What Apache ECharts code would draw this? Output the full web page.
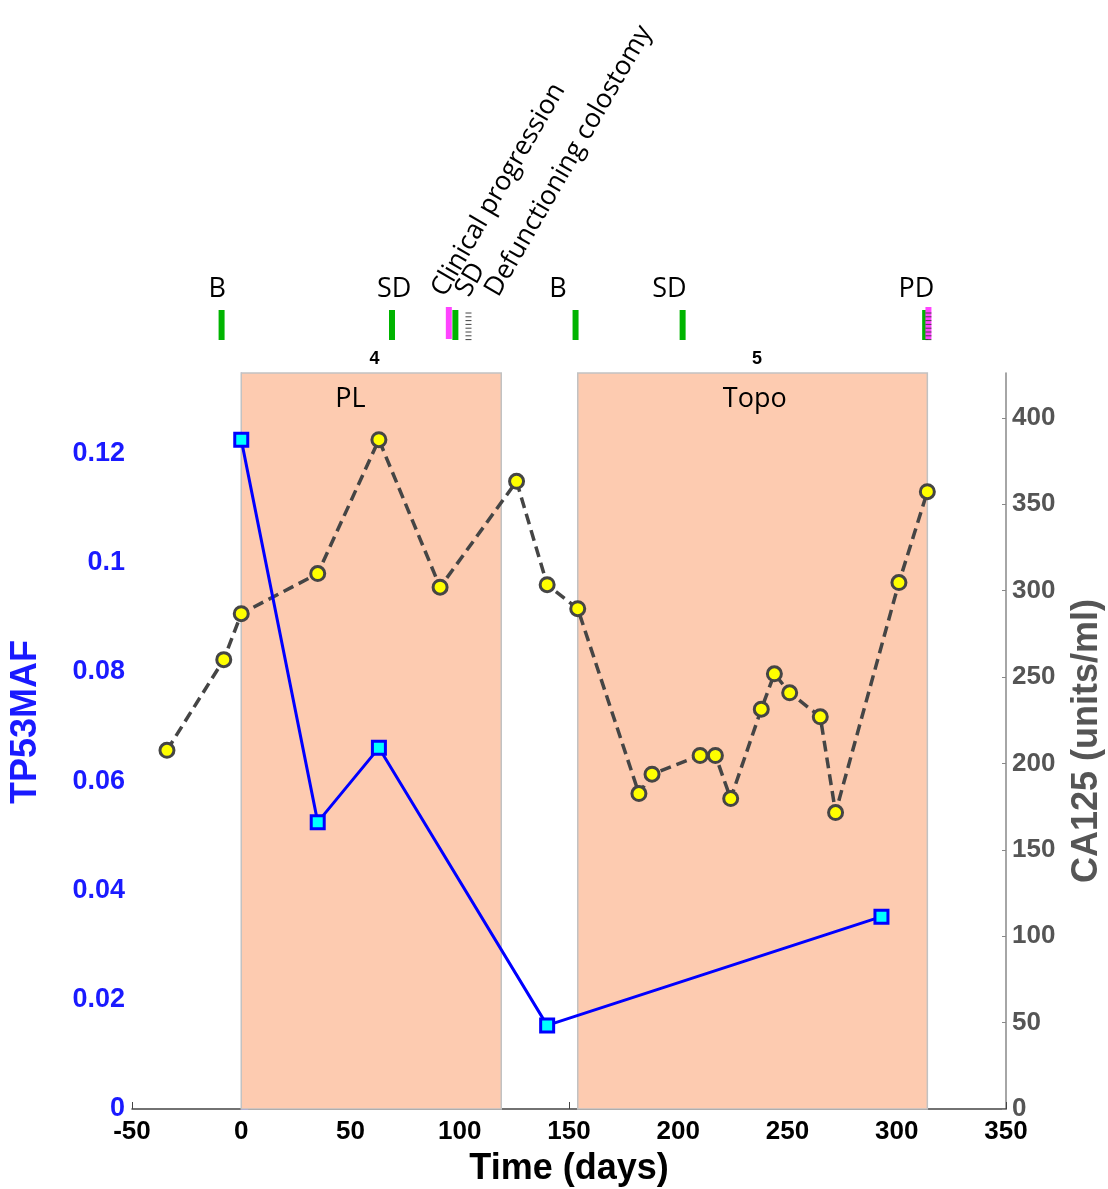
<!DOCTYPE html>
<html>
<head>
<meta charset="utf-8">
<script src="https://cdn.jsdelivr.net/npm/echarts@6/dist/echarts.min.js"></script>
<style>
html,body{margin:0;padding:0;background:#fff;}
#chart{width:1108px;height:1189px;}
</style>
</head>
<body>
<div id="chart"></div>
<script>
// ---- data ----
const x_ticks = [-50, 0, 50, 100, 150, 200, 250, 300, 350];
const maf_ticks = [0, 0.02, 0.04, 0.06, 0.08, 0.1, 0.12];
const ca125_ticks = [0, 50, 100, 150, 200, 250, 300, 350, 400];

const maf_days = [0, 35, 63, 140, 293];
const maf_values = [0.1225, 0.0525, 0.0661, 0.0153, 0.0352];

const ca125_days = [-34, -8, 0, 35, 63, 91, 126, 140, 154, 182, 188, 210, 217, 224, 238, 244, 251, 265, 272, 301, 314];
const ca125_values = [207.6, 260.1, 286.7, 309.9, 387.4, 302, 363.3, 303.5, 289.6, 182.6, 193.8, 204.6, 204.6, 179.7, 231.4, 251.9, 240.9, 227, 171.6, 304.7, 357.3];

const regimen_names = ['PL', 'Topo'];
const regimen_start = [0, 154];
const regimen_end = [119, 314];
const regimen_label_days = [50, 235];
const regimen_numbers = ['4', '5'];
const regimen_number_days = [61, 236];

const scan_days = [-9, 69, 98, 153, 202, 313];
const progression_days = [95, 314.5];
const other_event_days = [104, 314.5];
const scan_labels = ['B', 'SD', 'B', 'SD', 'PD'];
const scan_label_days = [-11, 70, 145, 196, 309];
const note_labels = ['Clinical progression', 'SD', 'Defunctioning colostomy'];
const note_label_days = [95.5, 106.5, 120];

// ---- chart ----
const X_MIN = -50, X_MAX = 350;
const MAF_MAX = 0.1347, CA_MAX = 426;
const AX_FONT = 'Liberation Sans, Arial, sans-serif';
const TXT_FONT = '"Open Sans", "Noto Sans", sans-serif';

const chart = echarts.init(document.getElementById('chart'), null, {renderer: 'canvas'});

function xpx(api, d) { return api.coord([d, 0])[0]; }

const option = {
  backgroundColor: '#ffffff',
  animation: false,
  grid: {left: 132, right: 102, top: 373, bottom: 80, containLabel: false, outerBoundsMode: 'none'},
  xAxis: {
    type: 'value', min: X_MIN, max: X_MAX, interval: 50,
    axisLine: {show: true, lineStyle: {color: '#444', width: 1.5}},
    axisTick: {show: true, inside: true, length: 7, lineStyle: {color: '#444'}, customValues: x_ticks},
    axisLabel: {color: '#000', fontWeight: 'bold', fontSize: 26, fontFamily: AX_FONT, margin: 10, customValues: x_ticks},
    splitLine: {show: false},
    name: 'Time (days)', nameLocation: 'middle', nameGap: 42,
    nameTextStyle: {color: '#000', fontWeight: 'bold', fontSize: 36, fontFamily: AX_FONT}
  },
  yAxis: [
    {
      type: 'value', position: 'left', min: 0, max: MAF_MAX,
      axisLine: {show: true, lineStyle: {color: '#7a7aff', width: 1}},
      axisTick: {show: true, inside: true, length: 7, lineStyle: {color: '#7a7aff'}, customValues: maf_ticks},
      axisLabel: {color: '#1a1aff', fontWeight: 'bold', fontSize: 27, fontFamily: AX_FONT, margin: 7, customValues: maf_ticks},
      splitLine: {show: false},
      name: 'TP53MAF', nameLocation: 'middle', nameRotate: 90, nameGap: 88,
      nameTextStyle: {color: '#1a1aff', fontWeight: 'bold', fontSize: 36, fontFamily: AX_FONT, padding: [0, 0, 0, 38]}
    },
    {
      type: 'value', position: 'right', min: 0, max: CA_MAX,
      axisLine: {show: true, lineStyle: {color: '#888', width: 1.5}},
      axisTick: {show: true, inside: true, length: 4, lineStyle: {color: '#888'}, customValues: ca125_ticks},
      axisLabel: {color: '#555', fontWeight: 'bold', fontSize: 26, fontFamily: AX_FONT, margin: 6, customValues: ca125_ticks},
      splitLine: {show: false},
      name: 'CA125 (units/ml)', nameLocation: 'middle', nameRotate: 90, nameGap: 63,
      nameTextStyle: {color: '#555', fontWeight: 'bold', fontSize: 36, fontFamily: AX_FONT}
    }
  ],
  series: [
    {
      type: 'custom', xAxisIndex: 0, yAxisIndex: 0, z: 1, silent: true,
      data: regimen_start.map((s, i) => [s, regimen_end[i]]),
      renderItem: function (params, api) {
        const p0 = api.coord([api.value(0), 0]);
        const p1 = api.coord([api.value(1), MAF_MAX]);
        return {
          type: 'rect',
          shape: {x: p0[0], y: p1[1], width: p1[0] - p0[0], height: p0[1] - p1[1]},
          style: {fill: '#FDCBB0', stroke: '#C2C2C2', lineWidth: 1.5}
        };
      }
    },
    {
      type: 'custom', xAxisIndex: 0, yAxisIndex: 0, z: 5, silent: true,
      data: regimen_label_days.map(d => [d]),
      renderItem: function (params, api) {
        return {
          type: 'text', x: xpx(api, api.value(0)), y: 399,
          style: {text: regimen_names[params.dataIndex], font: '27px ' + TXT_FONT, fill: '#000', textAlign: 'center', textVerticalAlign: 'middle'}
        };
      }
    },
    {
      type: 'custom', xAxisIndex: 0, yAxisIndex: 0, z: 5, silent: true,
      data: regimen_number_days.map(d => [d]),
      renderItem: function (params, api) {
        return {
          type: 'text', x: xpx(api, api.value(0)), y: 359,
          style: {text: regimen_numbers[params.dataIndex], font: 'bold 18px ' + AX_FONT, fill: '#000', textAlign: 'center', textVerticalAlign: 'middle'}
        };
      }
    },
    {
      type: 'custom', xAxisIndex: 0, yAxisIndex: 0, z: 5, silent: true,
      data: scan_days.map(d => [d]),
      renderItem: function (params, api) {
        const x = xpx(api, api.value(0));
        return {type: 'rect', shape: {x: x - 3, y: 310, width: 6, height: 30}, style: {fill: '#00B400'}};
      }
    },
    {
      type: 'custom', xAxisIndex: 0, yAxisIndex: 0, z: 5, silent: true,
      data: progression_days.map(d => [d]),
      renderItem: function (params, api) {
        const x = xpx(api, api.value(0));
        return {type: 'rect', shape: {x: x - 3, y: 307, width: 6, height: 32}, style: {fill: '#FF44FF'}};
      }
    },
    {
      type: 'custom', xAxisIndex: 0, yAxisIndex: 0, z: 6, silent: true,
      data: other_event_days.map(d => [d]),
      renderItem: function (params, api) {
        const x = xpx(api, api.value(0));
        const children = [];
        for (let k = 0; k < 8; k++) {
          const yy = 313 + k * 3.8;
          children.push({type: 'line', shape: {x1: x - 3, y1: yy, x2: x + 3, y2: yy}, style: {stroke: '#444', lineWidth: 1}});
        }
        return {type: 'group', children: children};
      }
    },
    {
      type: 'custom', xAxisIndex: 0, yAxisIndex: 0, z: 6, silent: true,
      data: scan_label_days.map(d => [d]),
      renderItem: function (params, api) {
        return {
          type: 'text', x: xpx(api, api.value(0)), y: 289,
          style: {text: scan_labels[params.dataIndex], font: '27px ' + TXT_FONT, fill: '#000', textAlign: 'center', textVerticalAlign: 'middle'}
        };
      }
    },
    {
      type: 'custom', xAxisIndex: 0, yAxisIndex: 0, z: 6, silent: true,
      data: note_label_days.map(d => [d]),
      renderItem: function (params, api) {
        return {
          type: 'text', x: xpx(api, api.value(0)), y: 301, rotation: Math.PI / 3,
          style: {text: note_labels[params.dataIndex], font: '26.5px ' + TXT_FONT, fill: '#000', textAlign: 'left', textVerticalAlign: 'bottom'}
        };
      }
    },
    {
      type: 'line', xAxisIndex: 0, yAxisIndex: 1, z: 10,
      data: ca125_days.map((d, i) => [d, ca125_values[i]]),
      symbol: 'circle', symbolSize: 14,
      lineStyle: {color: '#454545', width: 3.5, type: [11, 6]},
      itemStyle: {color: '#FFFF00', borderColor: '#454545', borderWidth: 3},
      emphasis: {disabled: true}
    },
    {
      type: 'line', xAxisIndex: 0, yAxisIndex: 0, z: 11,
      data: maf_days.map((d, i) => [d, maf_values[i]]),
      symbol: 'rect', symbolSize: 13,
      lineStyle: {color: '#0000FF', width: 3},
      itemStyle: {color: '#00FFFF', borderColor: '#0000FF', borderWidth: 3},
      emphasis: {disabled: true}
    }
  ]
};
chart.setOption(option);
</script>
</body>
</html>
